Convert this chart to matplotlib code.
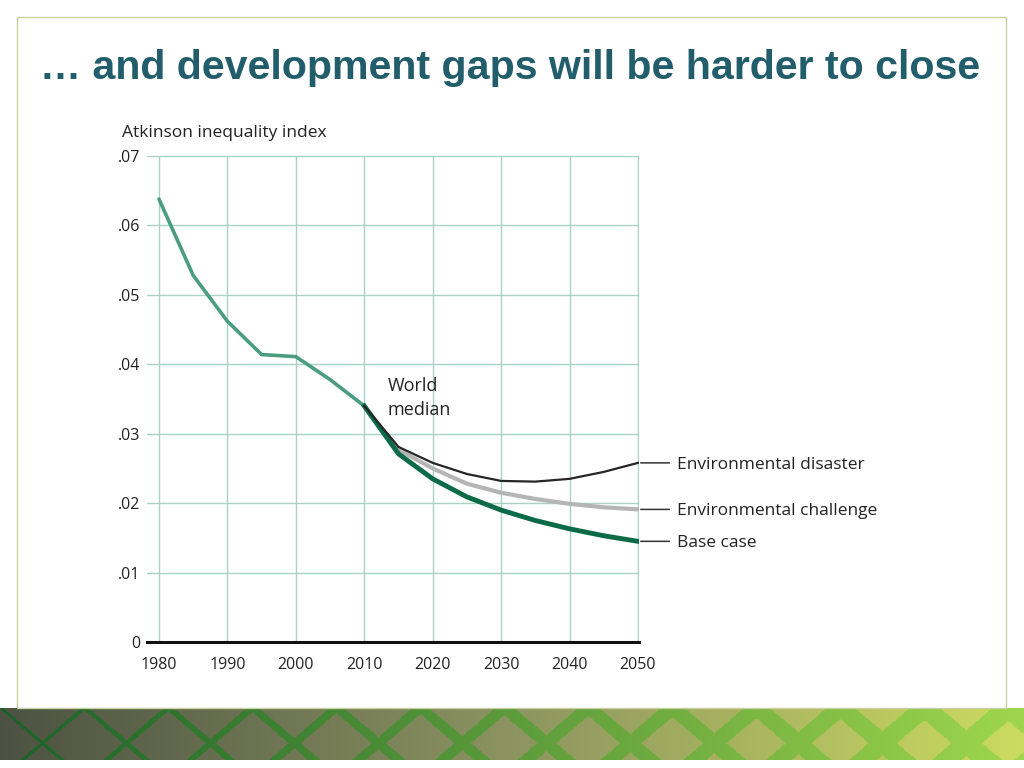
import numpy as np
import matplotlib
matplotlib.use("Agg")
import matplotlib.pyplot as plt
from matplotlib.patches import Rectangle

# Dane (indeks Atkinsona)
lata_hist = [1980, 1985, 1990, 1995, 2000, 2005, 2010]
historia = [0.0638, 0.0528, 0.0462, 0.0414, 0.0411, 0.0378, 0.0340]

lata_prog = [2010, 2015, 2020, 2025, 2030, 2035, 2040, 2045, 2050]
base_case = [0.0340, 0.0271, 0.0235, 0.0209, 0.0190, 0.0175, 0.0163, 0.0153, 0.0145]
env_challenge = [0.0340, 0.0277, 0.0250, 0.0228, 0.0215, 0.0206, 0.0199, 0.0194, 0.0191]
env_disaster = [0.0340, 0.0281, 0.0258, 0.0242, 0.0232, 0.0231, 0.0235, 0.0245, 0.0258]

etykiety_y = [".07", ".06", ".05", ".04", ".03", ".02", ".01", "0"]
wartosci_y = [0.07, 0.06, 0.05, 0.04, 0.03, 0.02, 0.01, 0.0]
lata_x = [1980, 1990, 2000, 2010, 2020, 2030, 2040, 2050]

W, H = 1024, 768
fig = plt.figure(figsize=(W / 100, H / 100), dpi=100)
fig.patch.set_facecolor("white")

def fx(px):
    return px / W

def fy(py):
    return 1 - py / H

# ramka slajdu
fig.patches.append(Rectangle((fx(17), fy(708)), fx(1006) - fx(17), fy(17) - fy(708),
                             transform=fig.transFigure, fill=False,
                             edgecolor="#c8cfa0", linewidth=1))

# tytuł
fig.text(fx(40), fy(68), "\u2026 and development gaps will be harder to close",
         fontsize=29.6, fontweight="bold", color="#215d6b",
         family=["Liberation Sans", "DejaVu Sans"], va="center", ha="left")

# wykres
ax = fig.add_axes([fx(147), fy(642), fx(639) - fx(147), fy(156) - fy(642)])
ax.set_xlim(1978.25, 2050.15)
ax.set_ylim(0, 0.07)
siatka = "#a9d2c4"
for y in wartosci_y[:-1]:
    ax.axhline(y, color=siatka, linewidth=1, zorder=1)
for x in lata_x:
    ax.axvline(x, color=siatka, linewidth=1, zorder=1)
for s in ["top", "right", "left"]:
    ax.spines[s].set_visible(False)
ax.spines["bottom"].set_linewidth(2.2)
ax.spines["bottom"].set_color("#111111")
ax.set_xticks(lata_x)
ax.set_xticklabels([str(r) for r in lata_x])
ax.set_yticks(wartosci_y)
ax.set_yticklabels(etykiety_y)
ax.tick_params(length=0, labelsize=11.5, labelcolor="#222222")
ax.tick_params(axis="x", pad=11)
ax.tick_params(axis="y", pad=5)
fnt = ["Open Sans", "DejaVu Sans"]
for lab in ax.get_xticklabels() + ax.get_yticklabels():
    lab.set_family(fnt)

ax.plot(lata_hist, historia, color="#4a9d7f", linewidth=2.6, zorder=3, solid_capstyle="round")
ax.plot(lata_prog, env_challenge, color="#b5b5b5", linewidth=3, zorder=3)
ax.plot(lata_prog, base_case, color="#0b6a47", linewidth=3.5, zorder=4)
ax.plot(lata_prog, env_disaster, color="#262626", linewidth=1.6, zorder=5)

fig.text(fx(122), fy(133), "Atkinson inequality index", fontsize=12.5,
         color="#222222", family=fnt, va="center")
ax.text(2013.4, 0.0381, "World\nmedian", fontsize=13, color="#222222",
        family=fnt, va="top", linespacing=1.4)

etykiety = [("Environmental disaster", env_disaster[-1]),
            ("Environmental challenge", env_challenge[-1]),
            ("Base case", base_case[-1])]
for tekst, wart in etykiety:
    ax.annotate("", xy=(2050, wart), xytext=(2055, wart),
                arrowprops=dict(arrowstyle="-", color="#333333", lw=1.1),
                annotation_clip=False)
    ax.text(2055.7, wart - 0.0003, tekst, fontsize=12.5, color="#222222", family=fnt,
            va="center", ha="left", clip_on=False)

# dolny pasek dekoracyjny
band = fig.add_axes([0, fy(760), 1, fy(708) - fy(760)])
bw, bh = 1024, 52
xx, yy = np.meshgrid(np.arange(bw), np.arange(bh))
t = xx / (bw - 1)
lewy = np.array([0.30, 0.32, 0.26])
srodek = np.array([0.55, 0.58, 0.38])
prawy = np.array([0.80, 0.86, 0.38])
tt = t[..., None]
baza = np.where(tt < 0.5, lewy + (srodek - lewy) * tt * 2, srodek + (prawy - srodek) * (tt - 0.5) * 2)
okres = 84
d1 = np.mod(xx + yy * 1.2, okres)
d2 = np.mod(xx - yy * 1.2, okres)
pasek = (np.minimum(d1, okres - d1) < 2 + 14 * t) | (np.minimum(d2, okres - d2) < 2 + 14 * t)
ziel_l = np.array([0.10, 0.38, 0.16])
ziel_p = np.array([0.62, 0.84, 0.30])
ziel = ziel_l + (ziel_p - ziel_l) * tt
obraz = np.where(pasek[..., None], ziel, baza)
band.imshow(obraz, aspect="auto", interpolation="bilinear")
band.axis("off")

fig.savefig("out.png", dpi=100)
